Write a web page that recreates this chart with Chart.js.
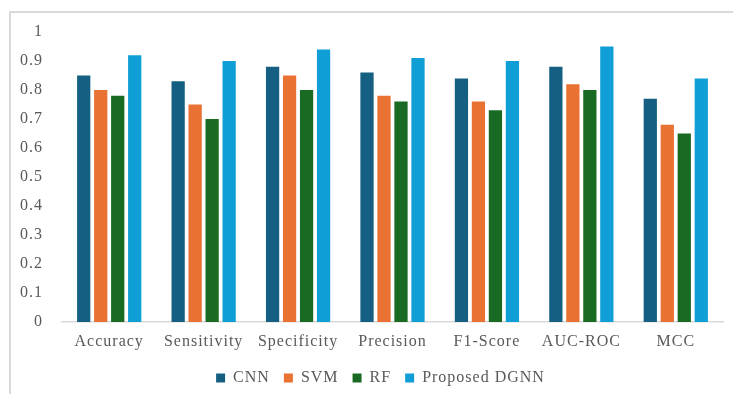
<!DOCTYPE html>
<html>
<head>
<meta charset="utf-8">
<script src="https://cdn.jsdelivr.net/npm/chart.js@4.4.1/dist/chart.umd.min.js"></script>
<style>
  html, body { margin: 0; padding: 0; background: #ffffff; }
  #wrap { position: relative; width: 733px; height: 394px; overflow: hidden; }
  #frame {
    position: absolute; left: 9px; top: 11px; width: 800px; height: 500px;
    border-top: 2px solid #d9d9d9; border-left: 2px solid #d9d9d9; box-sizing: border-box;
  }
  canvas { position: absolute; left: 0; top: 0; }
</style>
</head>
<body>
<div id="wrap">
  <div id="frame"></div>
  <canvas id="chart" width="733" height="394"></canvas>
</div>
<script>
// Evaluation metrics per model
const metrics = ['Accuracy', 'Sensitivity', 'Specificity', 'Precision', 'F1-Score', 'AUC-ROC', 'MCC'];
const cnn  = [0.85, 0.83, 0.88, 0.86, 0.84, 0.88, 0.77];
const svm  = [0.80, 0.75, 0.85, 0.78, 0.76, 0.82, 0.68];
const rf   = [0.78, 0.70, 0.80, 0.76, 0.73, 0.80, 0.65];
const dgnn = [0.92, 0.90, 0.94, 0.91, 0.90, 0.95, 0.84];
const seriesNames = ['CNN', 'SVM', 'RF', 'Proposed DGNN'];
const yTicks = [0, 0.1, 0.2, 0.3, 0.4, 0.5, 0.6, 0.7, 0.8, 0.9, 1];

const colors = ['#156082', '#E97132', '#196B24', '#0F9ED5'];
const series = [cnn, svm, rf, dgnn];

const FONT = "'Liberation Serif', 'Times New Roman', serif";
const TEXT = '#595959';

// Slightly spaced lettering for all canvas text
const spacing = {
  id: 'spacing',
  beforeUpdate(chart) { chart.ctx.letterSpacing = '1px'; },
  beforeDraw(chart) { chart.ctx.letterSpacing = '1px'; }
};

// Legend sits a little right of the canvas centre
const legendShift = {
  id: 'legendShift',
  afterLayout(chart) {
    const lg = chart.legend;
    if (lg) { lg.left += 14; lg.right += 14; }
  }
};

new Chart(document.getElementById('chart'), {
  type: 'bar',
  data: {
    labels: metrics,
    datasets: series.map((vals, i) => ({
      label: seriesNames[i],
      data: vals,
      backgroundColor: colors[i],
      borderWidth: 0,
      categoryPercentage: 0.72,
      barPercentage: 0.78
    }))
  },
  options: {
    responsive: false,
    animation: false,
    devicePixelRatio: 1,
    layout: { padding: { left: 10, right: 10, top: 32, bottom: -2 } },
    plugins: {
      tooltip: { enabled: false },
      legend: {
        position: 'bottom',
        labels: {
          font: { family: FONT, size: 16 },
          color: TEXT,
          boxWidth: 9,
          boxHeight: 9,
          padding: 14
        }
      }
    },
    scales: {
      x: {
        grid: { display: false, drawTicks: false },
        border: { display: true, color: '#d9d9d9', width: 1.5 },
        ticks: { font: { family: FONT, size: 16 }, color: TEXT, padding: 10, maxRotation: 0 },
        afterFit(scale) { scale.height = 34; }
      },
      y: {
        min: 0,
        max: 1,
        afterBuildTicks(scale) { scale.ticks = yTicks.map(v => ({ value: v })); },
        grid: { display: false, drawTicks: false },
        border: { display: false },
        ticks: {
          font: { family: FONT, size: 16 },
          color: TEXT,
          padding: 19,
          callback: v => String(Math.round(v * 10) / 10)
        },
        afterFit(scale) { scale.width = 52; }
      }
    }
  },
  plugins: [spacing, legendShift]
});
</script>
</body>
</html>
